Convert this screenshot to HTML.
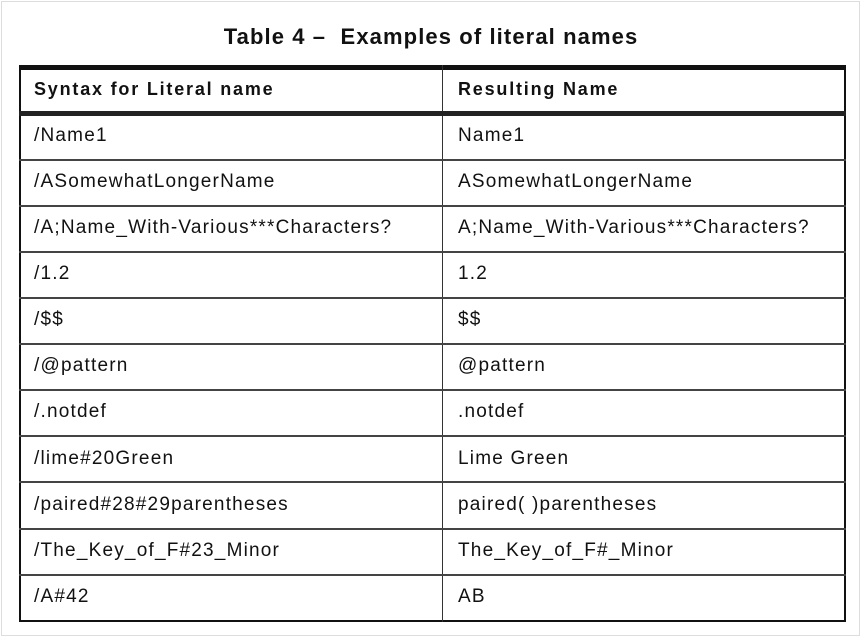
<!DOCTYPE html>
<html><head><meta charset="utf-8"><style>
html,body{margin:0;padding:0;background:#fff;}
body{width:862px;height:639px;position:relative;overflow:hidden;font-family:"Liberation Sans",Arial,sans-serif;color:#111;}
.frame{position:absolute;left:1px;top:1px;width:857px;height:633px;border:1px solid #ddd;}
.title{position:absolute;left:0;width:862px;top:24px;text-align:center;font-weight:bold;font-size:22px;letter-spacing:1.1px;}
.tbl{position:absolute;left:19px;top:65px;width:823px;height:550px;border-left:2px solid #111;border-right:2px solid #111;border-bottom:2px solid #111;border-top:5px solid #111;}
.h{position:absolute;left:19px;width:827px;background:#222;}
.v{position:absolute;left:442px;top:65px;width:1px;height:557px;background:#333;}
.t{position:absolute;font-size:19px;white-space:nowrap;letter-spacing:1.2px;}
.b{font-weight:bold;font-size:18px;letter-spacing:1.8px;}
</style></head><body>
<div class="frame"></div>
<div class="title">Table 4 –&nbsp; Examples of literal names</div>
<div class="tbl"></div>
<div class="v"></div>
<div class="h" style="top:111px;height:5px"></div>
<div class="h" style="top:159px;height:2px;background:#444"></div>
<div class="h" style="top:205px;height:2px;background:#444"></div>
<div class="h" style="top:251px;height:2px;background:#444"></div>
<div class="h" style="top:297px;height:2px;background:#444"></div>
<div class="h" style="top:343px;height:2px;background:#444"></div>
<div class="h" style="top:389px;height:2px;background:#444"></div>
<div class="h" style="top:435px;height:2px;background:#444"></div>
<div class="h" style="top:481px;height:2px;background:#444"></div>
<div class="h" style="top:528px;height:2px;background:#444"></div>
<div class="h" style="top:574px;height:2px;background:#444"></div>

<div class="t b" style="left:34px;top:79px">Syntax for Literal name</div>
<div class="t b" style="left:458px;top:79px">Resulting Name</div>

<div class="t" style="left:34px;top:125px">/Name1</div><div class="t" style="left:458px;top:125px">Name1</div>
<div class="t" style="left:34px;top:171px">/ASomewhatLongerName</div><div class="t" style="left:458px;top:171px">ASomewhatLongerName</div>
<div class="t" style="left:34px;top:217px">/A;Name_With-Various***Characters?</div><div class="t" style="left:458px;top:217px">A;Name_With-Various***Characters?</div>
<div class="t" style="left:34px;top:263px">/1.2</div><div class="t" style="left:458px;top:263px">1.2</div>
<div class="t" style="left:34px;top:309px">/$$</div><div class="t" style="left:458px;top:309px">$$</div>
<div class="t" style="left:34px;top:355px">/@pattern</div><div class="t" style="left:458px;top:355px">@pattern</div>
<div class="t" style="left:34px;top:401px">/.notdef</div><div class="t" style="left:458px;top:401px">.notdef</div>
<div class="t" style="left:34px;top:448px">/lime#20Green</div><div class="t" style="left:458px;top:448px">Lime Green</div>
<div class="t" style="left:34px;top:494px">/paired#28#29parentheses</div><div class="t" style="left:458px;top:494px">paired( )parentheses</div>
<div class="t" style="left:34px;top:540px">/The_Key_of_F#23_Minor</div><div class="t" style="left:458px;top:540px">The_Key_of_F#_Minor</div>
<div class="t" style="left:34px;top:586px">/A#42</div><div class="t" style="left:458px;top:586px">AB</div>
</body></html>
